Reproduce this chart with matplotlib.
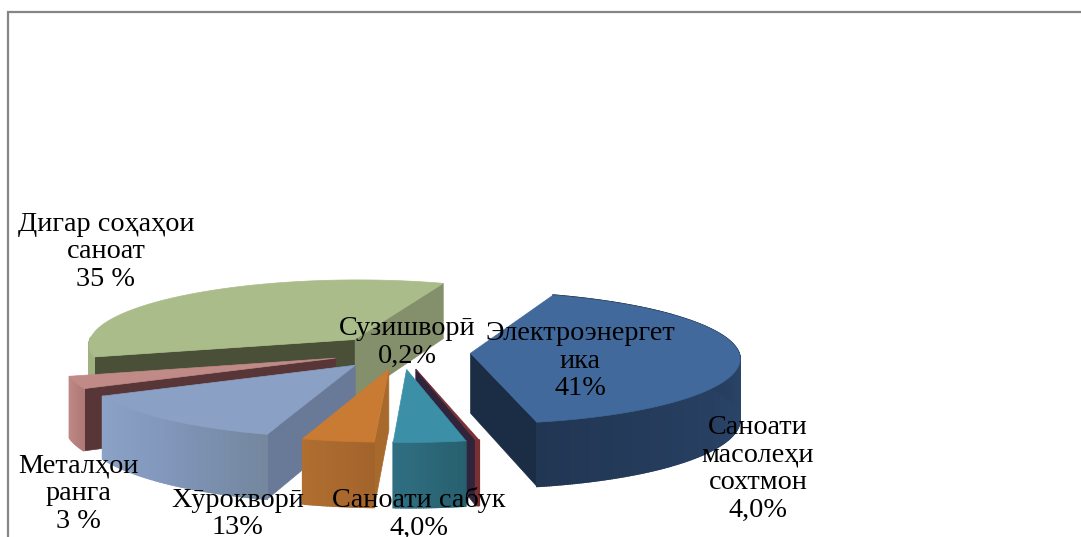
import matplotlib
matplotlib.use('Agg')
import matplotlib.pyplot as plt
import numpy as np
from matplotlib.colors import LinearSegmentedColormap

plt.rcParams['font.family'] = ['Liberation Serif', 'DejaVu Serif']

W, H = 1081, 537

# in angular order, counter-clockwise from the back of the pie
categories = ['Дигар соҳаҳои\nсаноат', 'Металҳои\nранга', 'Хӯрокворӣ', 'Саноати\nмасолеҳи\nсохтмон',
              'Саноати сабук', 'Сузишворӣ', 'Электроэнергет\nика']
values = [35, 3, 13, 4, 4, 0.2, 41]
value_labels = ['35 %', '3 %', '13%', '4,0%', '4,0%', '0,2%', '41%']

label_pos = [(106, 252), (78, 494), (238, 514), (758, 469), (419, 514), (407, 342), (580, 361)]

top_colors = ['#a9bc89', '#c08a87', '#8aa0c5', '#c97b34', '#3b90a8', '#7a2f33', '#41699b']
# wall colours at the start and at the end of each slice
start_wall_colors = ['#848f6c', '#583638', '#8aa0c5', '#c97b34', '#2a6070', '#30243c', '#1b2d45']
end_wall_colors = ['#4a4f38', '#583638', '#687a97', '#a86a2c', '#2a6070', '#30243c', '#1b2d45']
rim_colors = [['#9fb27f', '#9fb27f'], ['#c08a87', '#b07a78'], ['#8da2c7', '#8197bb', '#74879f'],
              ['#b06e30', '#a3642c'], ['#2f6f82', '#28606f'], ['#7a2f33', '#7a2f33'],
              ['#213653', '#2b466b', '#1a2c42']]
draw_order = [0, 1, 2, 6, 5, 3, 4]

START = 69.7
CX, CY = 401, 352
RX, RY = 268, 66
DEPTH = 60
EXPLODE = 0.26
PERSP = 0.07


def project(u, v, z=0.0):
    # u to the right, v to the back, z downwards (pixels)
    k = 1 - PERSP * np.asarray(v)
    return CX + RX * np.asarray(u) * k, CY - RY * np.asarray(v) * k + z * k


def wedge(a0, a1, off):
    t = np.radians(np.arange(a0, a1, 0.5).tolist() + [a1])
    return off[0] + np.cos(t), off[1] + np.sin(t)


def draw_slice(ax, a0, a1, top, wall0, wall1, rim):
    mid = np.radians((a0 + a1) / 2)
    off = (EXPLODE * np.cos(mid), EXPLODE * np.sin(mid))
    u, v = wedge(a0, a1, off)

    # radial walls, only the ones facing the viewer
    for a, sign, side in ((a0, -1, wall0), (a1, 1, wall1)):
        normal = np.radians(a + sign * 90)
        if np.sin(normal) < 0:
            eu = [off[0], off[0] + np.cos(np.radians(a))]
            ev = [off[1], off[1] + np.sin(np.radians(a))]
            x0, y0 = project(eu, ev)
            x1, y1 = project(eu, ev, DEPTH)
            ax.fill([x0[0], x0[1], x1[1], x1[0]], [y0[0], y0[1], y1[1], y1[0]],
                    color=side, lw=0.5)

    # outer wall as thin facets
    cmap = LinearSegmentedColormap.from_list('rim', rim)
    n = len(u)
    for i in range(n - 1):
        if np.sin(np.radians(a0 + (a1 - a0) * i / (n - 1))) > 0.05 and a0 < 170:
            continue
        x0, y0 = project(u[i:i + 2], v[i:i + 2])
        x1, y1 = project(u[i:i + 2], v[i:i + 2], DEPTH)
        ax.fill([x0[0], x0[1], x1[1], x1[0]], [y0[0], y0[1], y1[1], y1[0]],
                color=cmap(i / max(n - 2, 1)), lw=1.2)

    x, y = project(np.r_[off[0], u], np.r_[off[1], v])
    ax.fill(x, y, color=top, lw=0.5)


def main():
    fig = plt.figure(figsize=(W / 100, H / 100), dpi=100)
    ax = fig.add_axes([0, 0, 1, 1])
    ax.set_xlim(0, W)
    ax.set_ylim(H, 0)
    ax.axis('off')

    # chart area border, right and bottom sides fall outside the crop
    ax.plot([8, 8, W], [H, 12, 12], color='#868686', lw=1.6, solid_joinstyle='miter')

    spans = np.array(values) / np.sum(values) * 360
    starts = START + np.r_[0, np.cumsum(spans)[:-1]]
    for i in draw_order:
        draw_slice(ax, starts[i], starts[i] + spans[i], top_colors[i],
                   start_wall_colors[i], end_wall_colors[i], rim_colors[i])

    for name, val, (x, y) in zip(categories, value_labels, label_pos):
        ax.text(x, y, name + '\n' + val, ha='center', va='center', ma='center',
                fontsize=20.3, linespacing=1.15, color='black')

    fig.savefig('out.png', dpi=100)


if __name__ == '__main__':
    main()
